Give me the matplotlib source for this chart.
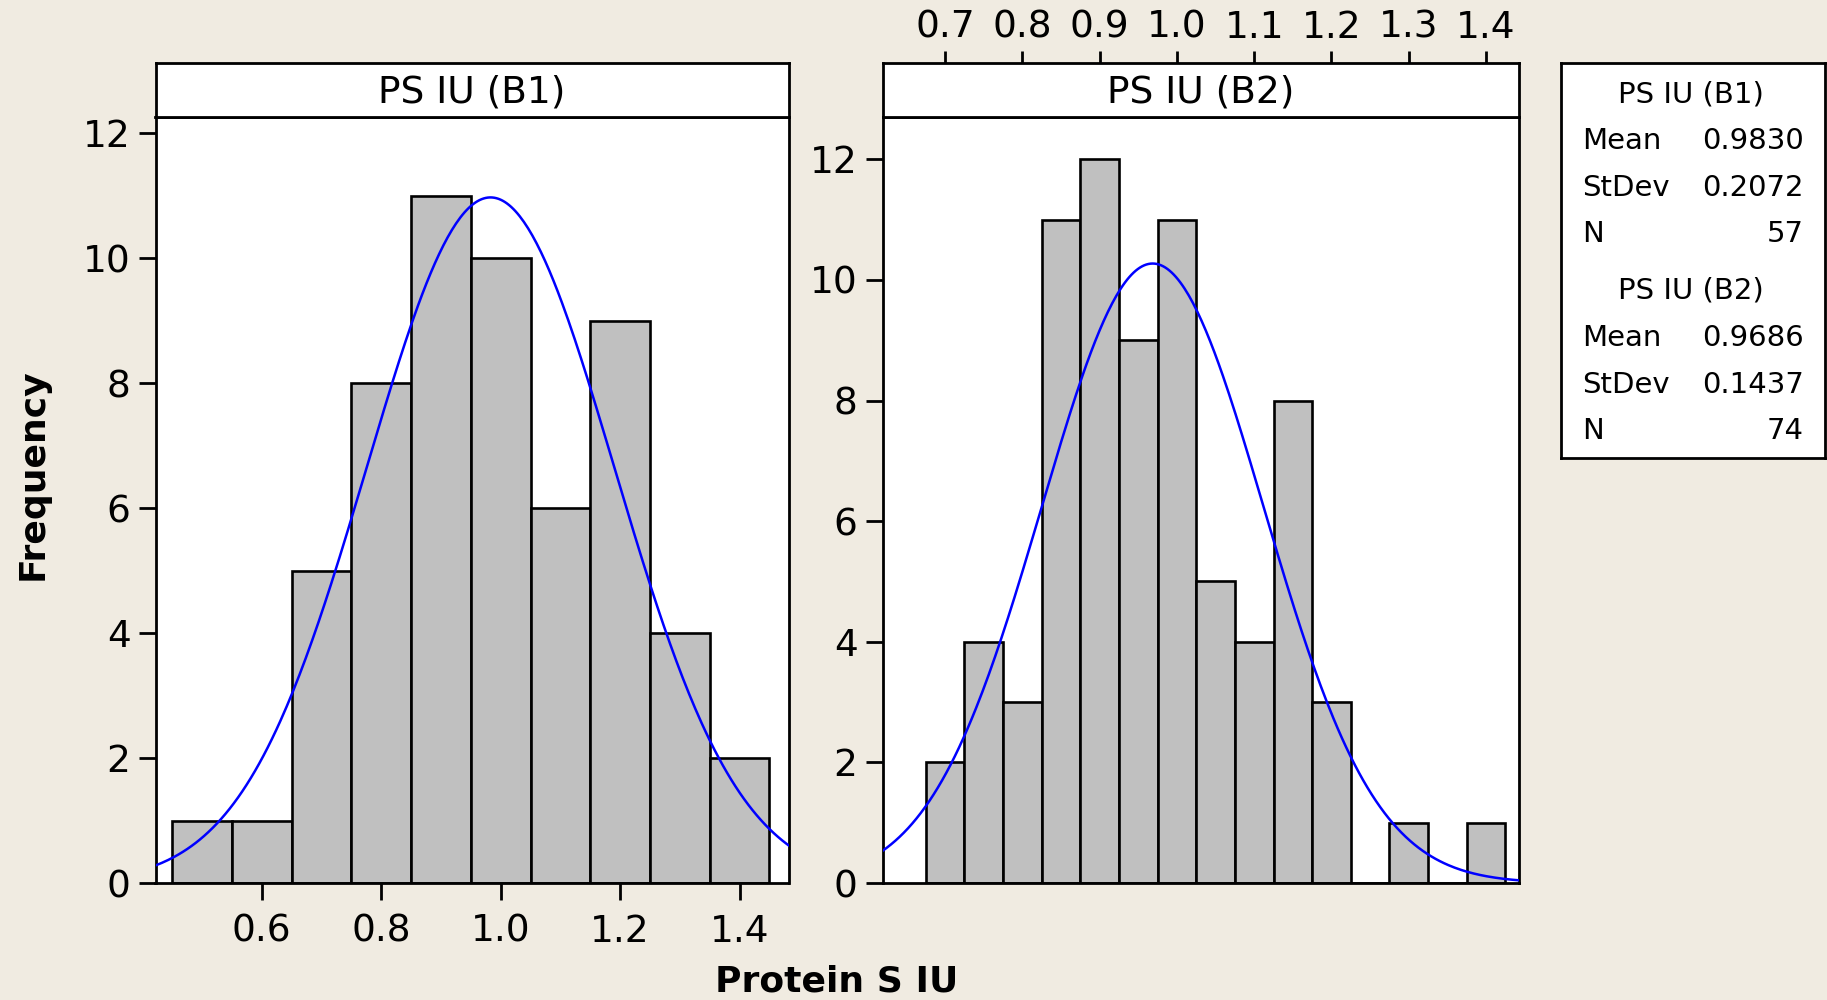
import numpy as np
import matplotlib.pyplot as plt

# bin centres and counts
b1_centers = [0.5, 0.6, 0.7, 0.8, 0.9, 1.0, 1.1, 1.2, 1.3, 1.4]
b1_counts = [1, 1, 5, 8, 11, 10, 6, 9, 4, 2]
b1_width = 0.1

b2_centers = [0.70, 0.75, 0.80, 0.85, 0.90, 0.95, 1.00, 1.05,
              1.10, 1.15, 1.20, 1.25, 1.30, 1.35, 1.40]
b2_counts = [2, 4, 3, 11, 12, 9, 11, 5, 4, 8, 3, 0, 1, 0, 1]
b2_width = 0.05

# summary stats shown in the legend box
b1_mean, b1_sd, b1_n = 0.9830, 0.2072, 57
b2_mean, b2_sd, b2_n = 0.9686, 0.1437, 74

W, H = 1827, 1000
bg = '#f0ebe1'
fig = plt.figure(figsize=(W / 100, H / 100), dpi=100, facecolor=bg)
plt.rcParams['font.family'] = 'DejaVu Sans'


def box(x0, y0, x1, y1):
    # pixel box (top-left origin) -> figure fraction rect
    return [x0 / W, 1 - y1 / H, (x1 - x0) / W, (y1 - y0) / H]


def normal_curve(ax, xlim, mean, sd, n, width):
    x = np.linspace(xlim[0], xlim[1], 300)
    y = n * width * np.exp(-0.5 * ((x - mean) / sd) ** 2) / (sd * np.sqrt(2 * np.pi))
    ax.plot(x, y, color='#0000ff', lw=1.8, zorder=3)


def panel(x0, x1, title, centers, counts, width, xlim, ylim, mean, sd, n):
    ax = fig.add_axes(box(x0, 116.5, x1, 883))
    ax.bar(centers, counts, width=width, color='#c0c0c0', edgecolor='black',
           linewidth=1.9, zorder=2)
    normal_curve(ax, xlim, mean, sd, n, width)
    ax.set_xlim(*xlim)
    ax.set_ylim(*ylim)
    ax.set_yticks(range(0, 13, 2))
    for s in ax.spines.values():
        s.set_linewidth(2)
    ax.tick_params(axis='y', length=12, width=2, pad=6, labelsize=27)
    ax.tick_params(axis='x', length=12, width=2, labelsize=27)

    strip = fig.add_axes(box(x0, 63, x1, 116.5))
    strip.set_xticks([])
    strip.set_yticks([])
    for s in strip.spines.values():
        s.set_linewidth(2)
    strip.text(0.5, 0.45, title, ha='center', va='center', fontsize=27,
               transform=strip.transAxes)
    return ax, strip


xlim1 = (0.422, 1.482)
xlim2 = (0.619, 1.442)

ax1, st1 = panel(155.5, 788.5, 'PS IU (B1)', b1_centers, b1_counts, b1_width,
                 xlim1, (0, 12.27), b1_mean, b1_sd, b1_n)
ax1.set_xticks([0.6, 0.8, 1.0, 1.2, 1.4])
ax1.set_xticklabels(['0.6', '0.8', '1.0', '1.2', '1.4'])
ax1.tick_params(axis='x', pad=10)

ax2, st2 = panel(882.5, 1518.5, 'PS IU (B2)', b2_centers, b2_counts, b2_width,
                 xlim2, (0, 12.71), b2_mean, b2_sd, b2_n)
ax2.set_xticks([])

# top axis ticks for B2 sit above the strip
st2.set_xlim(*xlim2)
top_ticks = [0.7, 0.8, 0.9, 1.0, 1.1, 1.2, 1.3, 1.4]
st2.set_xticks(top_ticks)
st2.set_xticklabels([f'{t:.1f}' for t in top_ticks])
st2.xaxis.tick_top()
st2.tick_params(axis='x', length=8.6, width=2, pad=4, labelsize=27)

# axis titles
fig.text(33 / W, 1 - 474 / H, 'Frequency', rotation=90, ha='center', va='center',
         fontsize=26, fontweight='bold')
fig.text(837 / W, 1 - 981 / H, 'Protein S IU', ha='center', va='center',
         fontsize=26, fontweight='bold')

# stats box
lg = fig.add_axes(box(1561, 63, 1825, 458))
lg.set_xticks([])
lg.set_yticks([])
for s in lg.spines.values():
    s.set_linewidth(2)

rows = [
    ('PS IU (B1)', 94, None),
    ('Mean', 141, f'{b1_mean:.4f}'),
    ('StDev', 188, f'{b1_sd:.4f}'),
    ('N', 234, f'{b1_n}'),
    ('PS IU (B2)', 291, None),
    ('Mean', 338, f'{b2_mean:.4f}'),
    ('StDev', 385, f'{b2_sd:.4f}'),
    ('N', 431, f'{b2_n}'),
]
for label, y, val in rows:
    if val is None:
        fig.text(1691 / W, 1 - y / H, label, ha='center', va='center', fontsize=21)
    else:
        fig.text(1582 / W, 1 - y / H, label, ha='left', va='center', fontsize=21)
        fig.text(1804 / W, 1 - y / H, val, ha='right', va='center', fontsize=21)

fig.savefig('out.png', dpi=100, facecolor=bg)
